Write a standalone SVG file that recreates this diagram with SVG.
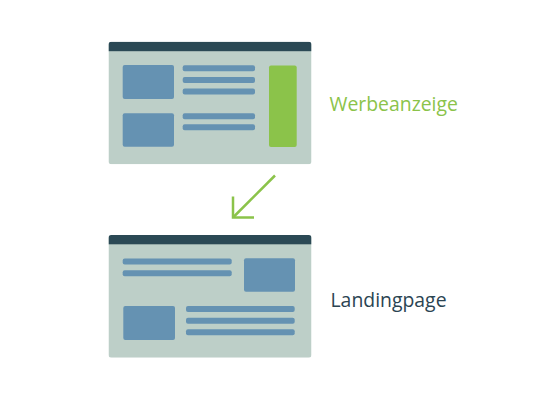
<svg xmlns="http://www.w3.org/2000/svg" width="555" height="400" viewBox="0 0 555 400">
<defs>
<style>
.win{fill:#bdcfc8}
.hdr{fill:#2b4955}
.blk{fill:#6592b2}
.ad{fill:#8bc34a}
.lbl{font-family:"Open Sans","Liberation Sans",sans-serif;font-size:19.4px}
</style>
<clipPath id="c1"><rect x="108.5" y="41.7" width="203" height="122.6" rx="3"/></clipPath>
<clipPath id="c2"><rect x="108.5" y="235" width="203" height="122.7" rx="3"/></clipPath>
</defs>
<rect width="555" height="400" fill="#ffffff"/>
<g id="werbeanzeige">
<g clip-path="url(#c1)">
<rect class="win" x="108.5" y="41.7" width="203" height="122.6"/>
<rect class="hdr" x="108.5" y="41.7" width="203" height="9.5"/>
</g>
<rect class="blk" x="122.7" y="65" width="51.3" height="34" rx="2"/>
<rect class="blk" x="122.7" y="113.3" width="51.3" height="33.4" rx="2"/>
<rect class="blk" x="182.7" y="65.3" width="72.3" height="6" rx="2"/>
<rect class="blk" x="182.7" y="77" width="72.3" height="6" rx="2"/>
<rect class="blk" x="182.7" y="88.5" width="72.3" height="6" rx="2"/>
<rect class="blk" x="182.7" y="113.3" width="72.3" height="6" rx="2"/>
<rect class="blk" x="182.7" y="124.3" width="72.3" height="6" rx="2"/>
<rect class="ad" x="269" y="65.5" width="27.7" height="81.5" rx="2"/>
<text class="lbl" x="329.5" y="110.5" fill="#8bc34a">Werbeanzeige</text>
</g>
<g id="landingpage">
<g clip-path="url(#c2)">
<rect class="win" x="108.5" y="235" width="203" height="122.7"/>
<rect class="hdr" x="108.5" y="235" width="203" height="9.3"/>
</g>
<rect class="blk" x="122.7" y="258.5" width="109" height="6" rx="2"/>
<rect class="blk" x="122.7" y="270.2" width="109" height="6" rx="2"/>
<rect class="blk" x="244" y="258.3" width="51" height="33.4" rx="2"/>
<rect class="blk" x="123.3" y="306" width="51.7" height="34" rx="2"/>
<rect class="blk" x="186" y="306" width="108.7" height="6" rx="2"/>
<rect class="blk" x="186" y="317.7" width="108.7" height="6" rx="2"/>
<rect class="blk" x="186" y="329.3" width="108.7" height="6" rx="2"/>
<text class="lbl" x="330.5" y="306.5" fill="#2b4452">Landingpage</text>
</g>
<g id="connectors" fill="none" stroke="#8bc34a" stroke-width="2.5">
<line x1="275" y1="175.5" x2="233.5" y2="217"/>
<polyline points="233,196.5 233,217.5 254,217.5"/>
</g>
</svg>
